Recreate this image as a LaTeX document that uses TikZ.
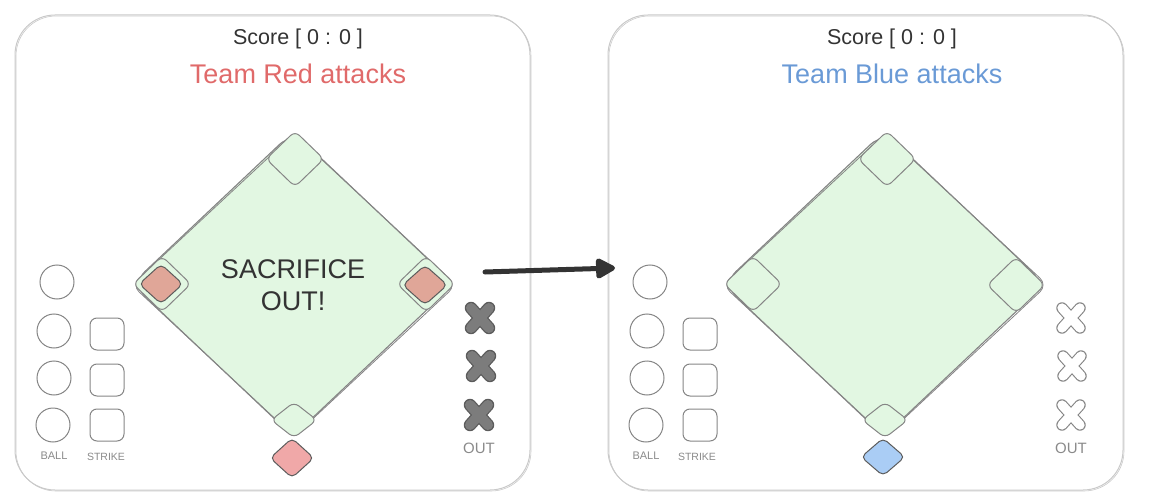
\documentclass[tikz,border=0pt]{standalone}
\usepackage{fontspec}
\setmainfont{Liberation Sans}
\usetikzlibrary{shapes.geometric,arrows.meta}
\definecolor{panelgray}{HTML}{C9C9C9}
\definecolor{fieldline}{HTML}{858585}
\definecolor{fieldgreen}{HTML}{E2F7E2}
\definecolor{txtdark}{HTML}{333333}
\definecolor{teamred}{HTML}{E06A6A}
\definecolor{teamblue}{HTML}{6A9AD6}
\definecolor{runred}{HTML}{F0A8A8}
\definecolor{basered}{HTML}{E0A698}
\definecolor{runblue}{HTML}{AACDF5}
\definecolor{labgray}{HTML}{8A8A8A}
\definecolor{xdark}{HTML}{5C5C5C}
\definecolor{xfill}{HTML}{7C7C7C}
\tikzset{
  panel/.style={draw=panelgray, line width=1pt, rounded corners=40pt, minimum width=515pt, minimum height=475pt, inner sep=0},
  panelsk/.style={panel, line width=0.6pt},
  field/.style={diamond, draw=fieldline, fill=fieldgreen, line width=1.1pt, rounded corners=18pt, inner sep=0, minimum width=323pt, minimum height=305pt},
  fieldsk/.style={diamond, draw=fieldline, line width=0.8pt, rounded corners=10pt, inner sep=0, minimum width=325pt, minimum height=303pt},
  basebox/.style={diamond, draw=fieldline, fill=fieldgreen, line width=1pt, rounded corners=6pt, inner sep=0, minimum width=58pt, minimum height=56pt},
  homebox/.style={basebox, minimum width=46pt, minimum height=36pt},
  runner/.style={diamond, draw=xdark, line width=1pt, rounded corners=5pt, inner sep=0, minimum width=44pt, minimum height=40pt},
  ballc/.style={circle, draw=fieldline, line width=1pt, minimum size=34pt, inner sep=0},
  strikebox/.style={rectangle, draw=fieldline, line width=1pt, rounded corners=7pt, minimum width=34pt, minimum height=32pt, inner sep=0},
  scoretxt/.style={text=txtdark, font=\fontsize{21.5pt}{25pt}\selectfont, inner sep=0},
  teamtxt/.style={font=\fontsize{27pt}{32pt}\selectfont, inner sep=0},
  bigtxt/.style={text=txtdark, align=center, font=\fontsize{27pt}{32pt}\selectfont, inner sep=0},
  smalllab/.style={text=labgray, font=\fontsize{11pt}{13pt}\selectfont, inner sep=0},
  outlab/.style={text=labgray, font=\fontsize{15pt}{18pt}\selectfont, inner sep=0},
  xfull/.pic={
    \draw[xdark, line width=12.5pt, line cap=round] (-9,-10) -- (9,10) (-9,10) -- (9,-10);
    \draw[xfill, line width=10pt, line cap=round] (-9,-10) -- (9,10) (-9,10) -- (9,-10);
  },
  xempty/.pic={
    \draw[fieldline, line width=11.5pt, line cap=round] (-9,-10) -- (9,10) (-9,10) -- (9,-10);
    \draw[white, line width=9.3pt, line cap=round] (-9,-10) -- (9,10) (-9,10) -- (9,-10);
  },
  flowarrow/.style={-{Triangle[length=22pt,width=22pt,round]}, line width=5pt, draw=txtdark, line cap=round}
}
\begin{document}
\begin{tikzpicture}[x=1pt,y=-1pt]
\useasboundingbox (0,0) rectangle (1154,500);
% ---------- left panel ----------
\node[panel] (panelL) at (272.5,252.5) {};
\node[panelsk] (panelLs) at (273.5,253.5) {};
\node[scoretxt] (scoreL) at (298,39) {Score [ 0 : 0 ]};
\node[teamtxt, text=teamred] (teamL) at (298,74) {Team Red attacks};
\node[field] (fieldL) at (293,284) {};
\node[fieldsk] (fieldLs) at (294,285) {};
\node[basebox] (b2L) at (295,159) {};
\node[basebox] (b3L) at (162,284) {};
\node[basebox] (b1L) at (426,284) {};
\node[homebox] (hL) at (294,420) {};
\node[runner, fill=basered, minimum width=44pt, minimum height=40pt] (r3L) at (161,284) {};
\node[runner, fill=basered, minimum width=45pt, minimum height=40pt] (r1L) at (425,285) {};
\node[runner, fill=runred] (rbL) at (292,458) {};
\node[bigtxt] (sacL) at (293,285) {SACRIFICE\\OUT!};
\node[ballc] (bl1L) at (57,282) {};
\node[ballc] (bl2L) at (54,331) {};
\node[ballc] (bl3L) at (54,378) {};
\node[ballc] (bl4L) at (53,425) {};
\node[strikebox] (s1L) at (107,334) {};
\node[strikebox] (s2L) at (107,380) {};
\node[strikebox] (s3L) at (107,425) {};
\node[smalllab] (ballL) at (54,456) {BALL};
\node[smalllab, font=\fontsize{10.5pt}{12pt}\selectfont] (strL) at (106,457) {STRIKE};
\pic at (480,318) {xfull};
\pic at (481,366) {xfull};
\pic at (479,415) {xfull};
\node[outlab] (outL) at (479,448) {OUT};
% ---------- right panel ----------
\node[panel] (panelR) at (865.5,252.5) {};
\node[panelsk] (panelRs) at (866.5,253.5) {};
\node[scoretxt] (scoreR) at (892,39) {Score [ 0 : 0 ]};
\node[teamtxt, text=teamblue] (teamR) at (892,74) {Team Blue attacks};
\node[field] (fieldR) at (884,284) {};
\node[fieldsk] (fieldRs) at (885,285) {};
\node[basebox] (b2R) at (887,159) {};
\node[basebox] (b3R) at (753,284) {};
\node[basebox] (b1R) at (1016,285) {};
\node[homebox] (hR) at (885,420) {};
\node[runner, fill=runblue, minimum width=44pt, minimum height=38pt] (rbR) at (883,457) {};
\node[ballc] (bl1R) at (650,282) {};
\node[ballc] (bl2R) at (647,331) {};
\node[ballc] (bl3R) at (647,378) {};
\node[ballc] (bl4R) at (646,425) {};
\node[strikebox] (s1R) at (700,334) {};
\node[strikebox] (s2R) at (700,380) {};
\node[strikebox] (s3R) at (700,425) {};
\node[smalllab] (ballR) at (646,456) {BALL};
\node[smalllab, font=\fontsize{10.5pt}{12pt}\selectfont] (strR) at (697,457) {STRIKE};
\pic at (1071,318) {xempty};
\pic at (1072,366) {xempty};
\pic at (1071,415) {xempty};
\node[outlab] (outR) at (1071,448) {OUT};
% ---------- arrow ----------
\coordinate (arrS) at (485,272);
\coordinate (arrE) at (615,268);
\draw[flowarrow] (arrS) -- (arrE);
\end{tikzpicture}
\end{document}
